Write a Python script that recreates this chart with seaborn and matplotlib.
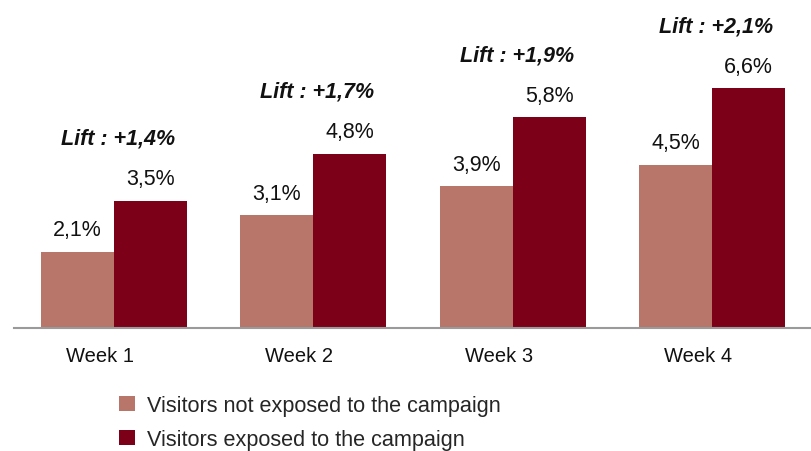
import pandas as pd
import seaborn as sns
from matplotlib import pyplot as plt
from matplotlib.patches import Patch
from matplotlib.transforms import ScaledTranslation

sns.set_style("white")
plt.rcParams['font.family'] = ['Liberation Sans', 'DejaVu Sans']

weeks = ["Week 1", "Week 2", "Week 3", "Week 4"]
notExposed = [2.1, 3.1, 3.9, 4.5]
exposed = [3.5, 4.8, 5.8, 6.6]
lifts = ["+1,4%", "+1,7%", "+1,9%", "+2,1%"]
seriesNames = ["Visitors not exposed to the campaign", "Visitors exposed to the campaign"]
colors = ["#B8756A", "#7D0019"]

df = pd.DataFrame({
    "week": weeks * 2,
    "value": notExposed + exposed,
    "group": [seriesNames[0]] * 4 + [seriesNames[1]] * 4,
})

fig = plt.figure(figsize=(8.11, 4.52), dpi=100)
ax = fig.add_axes([14 / 811, 1 - 329 / 452, 798 / 811, 329 / 452])

sns.barplot(data=df, x="week", y="value", hue="group", palette=colors,
            width=0.73, gap=0, saturation=1, linewidth=0, ax=ax, legend=False)

ax.set_xlim(-0.5, 3.5)
ax.set_ylim(0, 329 / 36.3)
ax.set_xlabel("")
ax.set_ylabel("")
ax.set_yticks([])
for s in ["left", "right", "top"]:
    ax.spines[s].set_visible(False)
ax.spines["bottom"].set_color("#9a9a9a")
ax.spines["bottom"].set_linewidth(1.5)
ax.tick_params(axis="x", length=0, pad=13, labelsize=14.5, labelcolor="#111111")
# week labels sit a bit left of the group centre
shift = ScaledTranslation(-14 / 100, 0, fig.dpi_scale_trans)
for lbl in ax.get_xticklabels():
    lbl.set_transform(lbl.get_transform() + shift)

# value labels
for container in ax.containers:
    for bar, v in zip(container, container.datavalues):
        ax.annotate(f"{v:.1f}".replace(".", ",") + "%",
                    xy=(bar.get_x() + bar.get_width() / 2, v), xytext=(0, 16),
                    textcoords="offset points", ha="center", va="center",
                    fontsize=15.5, color="#111111")

# lift labels above each group
for i, (val, lift) in enumerate(zip(exposed, lifts)):
    ax.annotate(f"Lift : {lift}", xy=(i, val), xytext=(3, 45), textcoords="offset points",
                ha="center", va="center", fontsize=15.5, fontweight="bold", fontstyle="italic",
                color="#111111")

handles = [Patch(facecolor=c, edgecolor="none") for c in colors]
fig.legend(handles, seriesNames, loc="upper left", bbox_to_anchor=(119 / 811, 1 - 396 / 452),
           frameon=False, fontsize=15.6, handlelength=0.75, handleheight=0.75,
           handletextpad=0.55, labelspacing=0.6, borderpad=0, borderaxespad=0)

fig.savefig("out.png", dpi=100)
